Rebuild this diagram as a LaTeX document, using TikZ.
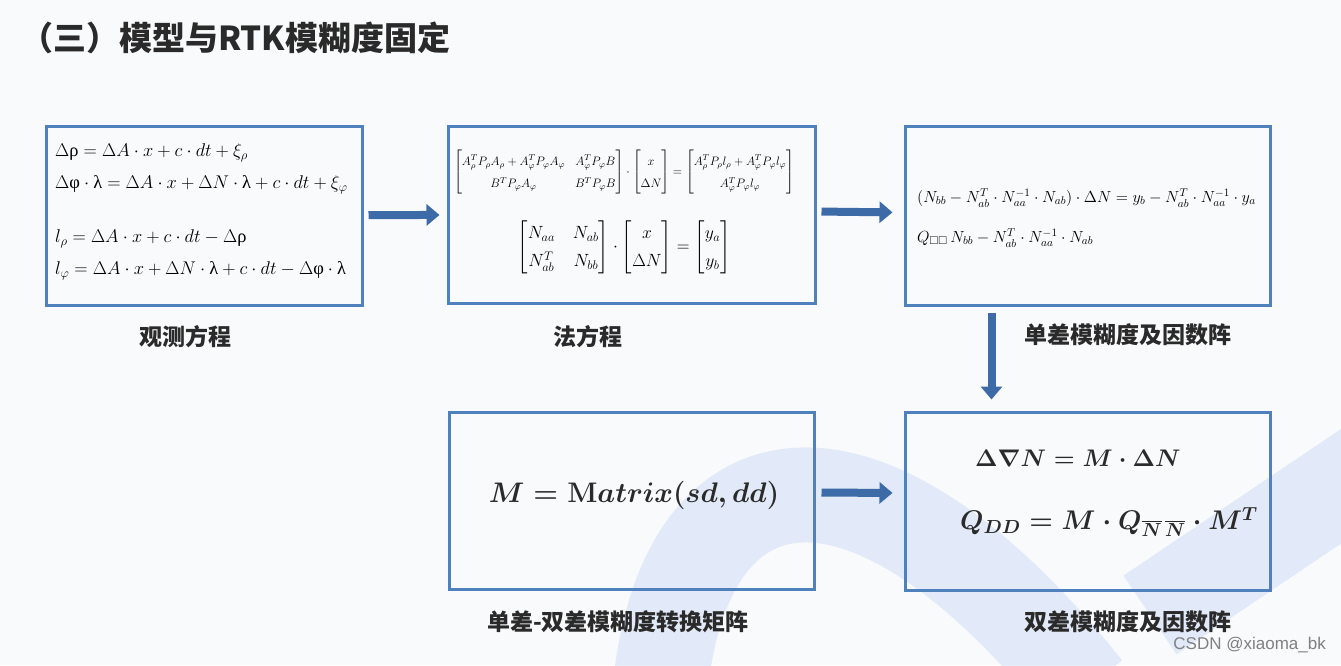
\documentclass[tikz,border=0pt]{standalone}
\usepackage{fix-cm}
\usepackage{fontspec}
\usepackage{amsmath,amssymb}
\usetikzlibrary{arrows.meta,positioning}
\setmainfont{Liberation Serif}
\newfontfamily\cjk{Noto Sans CJK SC}
\newfontfamily\wmfont{Liberation Sans}
\definecolor{frame}{HTML}{4F81BD}
\definecolor{arrowblue}{HTML}{3D6BA8}
\definecolor{ink}{HTML}{2A2A2A}
\definecolor{swoosh}{HTML}{D4DFF6}
\definecolor{paper}{HTML}{F9FAFC}
\newcommand{\urho}{\text{ρ}}
\newcommand{\uphi}{\text{φ}}
\newcommand{\ulam}{\text{λ}}
\tikzset{
  box/.style={rectangle, draw=frame, line width=3pt, inner sep=0pt},
  eqn/.style={inner sep=0pt, align=left, text=black},
  bigeqn/.style={eqn, font=\boldmath\fontsize{24}{28}\selectfont, text=ink},
  lbl/.style={font=\cjk\bfseries\fontsize{23}{27}\selectfont, text=ink, inner sep=0pt},
  flow/.style={-{Triangle[length=13pt,width=21pt]}, draw=arrowblue, line width=8pt},
  band/.style={draw=swoosh, line width=95pt, opacity=0.6},
}
\begin{document}
\begin{tikzpicture}[x=1pt,y=-1pt]
\useasboundingbox[fill=paper] (0,0) rectangle (1341,665);
% background swoosh
\begin{scope}
  \clip (0,0) rectangle (1341,665);
  \draw[band] (660,690) .. controls (685,440) and (870,420) .. (1085,690);
  \draw[band] (1150,615) -- (1380,460);
\end{scope}

\node[font=\cjk\bfseries\fontsize{33}{38}\selectfont, text=ink, anchor=west, inner sep=0pt]
  (title) at (20,38) {（三）模型与RTK模糊度固定};

% boxes
\node[box, minimum width=316pt, minimum height=179pt] (obs)   at (204,215.5) {};
\node[box, minimum width=367pt, minimum height=177pt] (norm)  at (631.5,214.5) {};
\node[box, minimum width=365pt, minimum height=179pt] (sd)    at (1087.5,215.5) {};
\node[box, minimum width=365pt, minimum height=177pt] (trans) at (631.5,500.5) {};
\node[box, minimum width=365pt, minimum height=178pt] (dd)    at (1087.5,501) {};

% box contents
\node[eqn, anchor=west, font=\fontsize{18.4}{32}\selectfont] (obs-eq) at (55,212)
 {$\Delta\urho = \Delta A\cdot x + c\cdot dt + \xi_\rho$\\
  $\Delta\uphi\cdot\ulam = \Delta A\cdot x + \Delta N\cdot\ulam + c\cdot dt + \xi_\varphi$\\[22pt]
  $l_\rho = \Delta A\cdot x + c\cdot dt - \Delta\urho$\\
  $l_\varphi = \Delta A\cdot x + \Delta N\cdot\ulam + c\cdot dt - \Delta\uphi\cdot\ulam$};

\node[eqn, font=\fontsize{12.2}{15}\selectfont\renewcommand{\arraystretch}{1.5}] (norm-full) at (624,172)
 {$\begin{bmatrix} A_\rho^T P_\rho A_\rho + A_\varphi^T P_\varphi A_\varphi & A_\varphi^T P_\varphi B\\
   B^T P_\varphi A_\varphi & B^T P_\varphi B\end{bmatrix}\cdot
   \begin{bmatrix} x\\ \Delta N\end{bmatrix} =
   \begin{bmatrix} A_\rho^T P_\rho l_\rho + A_\varphi^T P_\varphi l_\varphi\\
   A_\varphi^T P_\varphi l_\varphi\end{bmatrix}$};
\node[eqn, font=\fontsize{17.7}{21}\selectfont\renewcommand{\arraystretch}{1.35}\setlength{\arraycolsep}{9pt}] (norm-short) at (624,247)
 {$\begin{bmatrix} N_{aa} & N_{ab}\\ N_{ab}^T & N_{bb}\end{bmatrix}\cdot
   \begin{bmatrix} x\\ \Delta N\end{bmatrix} =
   \begin{bmatrix} y_a\\ y_b\end{bmatrix}$};

\node[eqn, anchor=west, font=\fontsize{16.1}{40}\selectfont] (sd-eq) at (917,218)
 {$(N_{bb} - N_{ab}^T\cdot N_{aa}^{-1}\cdot N_{ab})\cdot\Delta N = y_b - N_{ab}^T\cdot N_{aa}^{-1}\cdot y_a$\\
  $Q_{\square\square}\,N_{bb} - N_{ab}^T\cdot N_{aa}^{-1}\cdot N_{ab}$};

\node[bigeqn, font=\boldmath\fontsize{28.3}{32}\selectfont] (trans-eq) at (634,495) {$M = \mathbf{M}atrix(sd, dd)$};
\node[bigeqn, anchor=west] (dd-eq1) at (975,458) {$\Delta\nabla N = M\cdot\Delta N$};
\node[bigeqn, anchor=west, font=\boldmath\fontsize{27}{32}\selectfont] (dd-eq2) at (960,522) {$Q_{DD} = M\cdot Q_{\overline{N}\,\overline{N}}\cdot M^T$};

% labels
\node[lbl] (obs-lbl)   at (185,337) {观测方程};
\node[lbl] (norm-lbl)  at (588,337) {法方程};
\node[lbl] (sd-lbl)    at (1128,335) {单差模糊度及因数阵};
\node[lbl] (trans-lbl) at (618,622) {单差-双差模糊度转换矩阵};
\node[lbl] (dd-lbl)    at (1128,622) {双差模糊度及因数阵};

% arrows
\draw[flow, shorten <=5pt, shorten >=7pt] (obs) -- (norm);
\draw[flow, shorten <=5pt, shorten >=11pt] ([yshift=3pt]norm.east) -- ([yshift=3pt]sd.west);
\draw[flow, shorten <=6pt, shorten >=11pt] ([xshift=-96pt]sd.south) -- ([xshift=-96pt]dd.north);
\draw[flow, shorten <=6pt, shorten >=11pt] ([yshift=8pt]trans.east) -- ([yshift=8pt]dd.west);

\node[font=\wmfont\fontsize{17}{20}\selectfont, text=black!50, anchor=east, inner sep=0pt]
  (wm) at (1326,645) {CSDN @xiaoma\_bk};
\end{tikzpicture}
\end{document}
